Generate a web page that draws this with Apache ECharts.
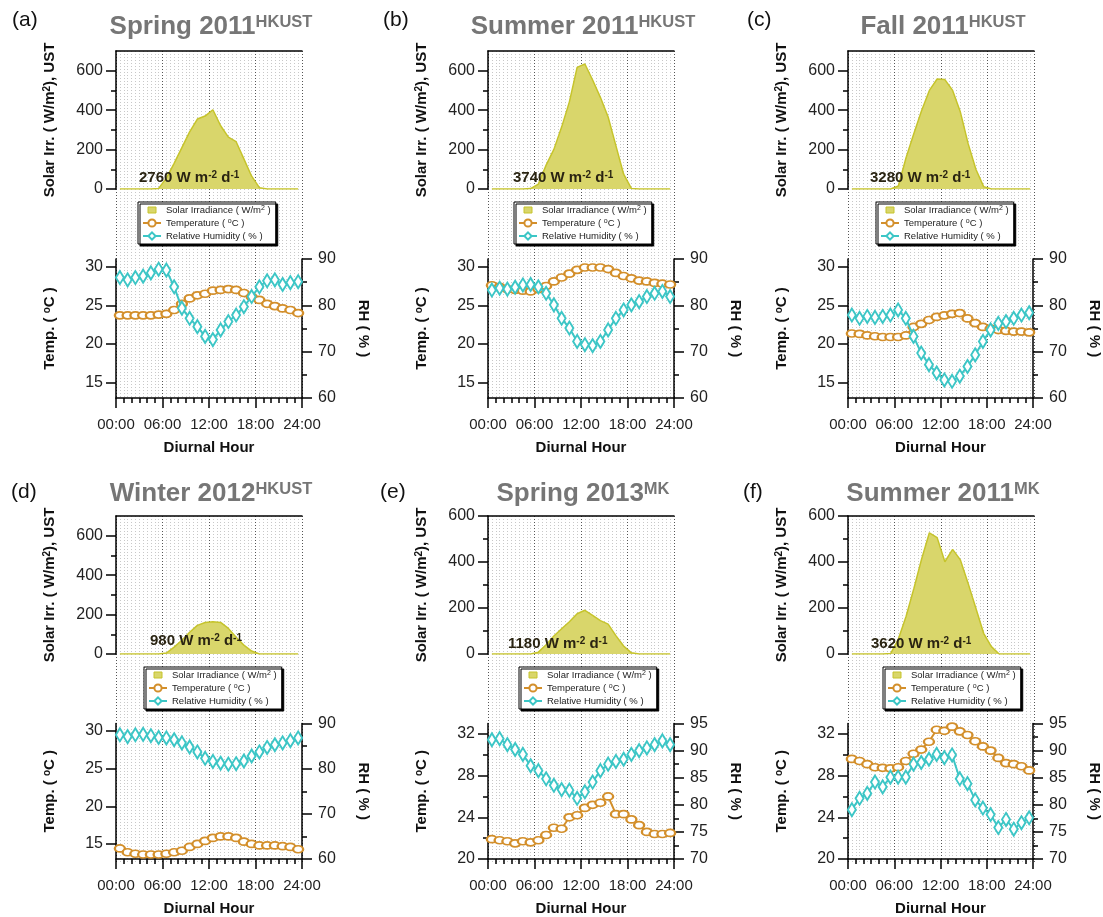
<!DOCTYPE html>
<html><head><meta charset="utf-8">
<script src="https://cdn.jsdelivr.net/npm/echarts@6/dist/echarts.min.js"></script>
<style>html,body{margin:0;padding:0;background:#fff}#c{width:1103px;height:917px}</style>
</head><body><div id="c"></div>
<script>
// ---------------- DATA ----------------
const HOURS = [0.5,1.5,2.5,3.5,4.5,5.5,6.5,7.5,8.5,9.5,10.5,11.5,12.5,13.5,14.5,15.5,16.5,17.5,18.5,19.5,20.5,21.5,22.5,23.5];
const X_TICK_LABELS = ['00:00','06:00','12:00','18:00','24:00'];
const PANEL_LABELS = ['(a)','(b)','(c)','(d)','(e)','(f)'];
const SEASONS = ['Spring 2011','Summer 2011','Fall 2011','Winter 2012','Spring 2013','Summer 2011'];
const SITES = ['HKUST','HKUST','HKUST','HKUST','MK','MK'];
const DAILY_TOTALS = ['2760','3740','3280','980','1180','3620'];

const SOLAR_A = [0,0,0,0,0,3,55,130,210,290,355,370,402,321,263,240,153,65,7,0,0,0,0,0];
const SOLAR_B = [0,0,0,0,0,2,25,121,201,314,442,617,634,553,465,365,220,75,3,0,0,0,0,0];
const SOLAR_C = [0,0,0,0,0,0,15,160,282,398,500,558,555,500,390,230,100,12,0,0,0,0,0,0];
const SOLAR_D = [0,0,0,0,0,0,5,35,70,110,145,160,163,160,130,85,45,15,0,0,0,0,0,0];
const SOLAR_E = [0,0,0,0,0,0,8,40,78,110,140,175,190,168,145,130,80,35,5,0,0,0,0,0];
const SOLAR_F = [0,0,0,0,0,2,65,164,285,413,527,506,401,455,409,307,199,90,32,0,0,0,0,0];

const TEMP_A = [23.7,23.7,23.7,23.7,23.7,23.8,23.9,24.4,25.2,25.9,26.3,26.5,26.9,27.0,27.1,27.0,26.6,26.1,25.7,25.2,24.9,24.6,24.4,24.0];
const TEMP_B = [27.6,27.4,27.1,27.0,26.9,26.8,27.1,27.5,28.1,28.6,29.1,29.6,29.9,29.9,29.9,29.7,29.2,28.8,28.5,28.2,28.1,27.9,27.8,27.7];
const TEMP_C = [21.35,21.3,21.1,21.0,20.9,20.9,20.9,21.1,22.2,22.6,23.1,23.5,23.7,23.9,24.0,23.3,22.7,22.2,22.0,21.8,21.7,21.6,21.6,21.5];
const TEMP_D = [14.4,13.9,13.7,13.6,13.6,13.6,13.7,13.9,14.1,14.6,15.0,15.4,15.8,16.0,16.0,15.8,15.3,15.0,14.8,14.8,14.8,14.7,14.6,14.3];
const TEMP_E = [21.9,21.8,21.7,21.5,21.7,21.6,21.8,22.3,23.0,22.9,24.0,24.2,24.9,25.2,25.4,26.0,24.3,24.3,23.8,23.25,22.6,22.4,22.4,22.5];
const TEMP_F = [29.6,29.4,29.1,28.8,28.75,28.7,28.8,29.4,30.1,30.5,31.25,32.4,32.3,32.7,32.25,31.9,31.3,30.8,30.4,29.7,29.2,29.1,28.9,28.5];

const RH_A = [86.0,85.5,86.0,86.3,87.0,87.8,87.6,84.0,79.4,77.2,75.4,73.3,72.6,74.7,76.5,77.9,79.7,81.9,84.0,85.3,85.5,84.5,84.9,85.1];
const RH_B = [83.3,83.7,83.5,83.9,84.4,84.5,84.0,82.6,80.1,77.2,75.1,72.2,71.5,71.3,72.2,74.7,77.2,79.0,80.1,80.8,81.9,82.6,83.0,81.9];
const RH_C = [77.9,77.2,77.6,77.4,77.6,77.9,79.0,77.2,73.3,69.7,67.2,65.4,63.9,63.6,64.7,66.8,69.3,72.2,74.7,76.1,76.5,77.2,77.9,78.4];
const RH_D = [87.5,87.1,87.5,87.6,87.3,86.9,86.8,86.4,85.7,84.8,83.7,82.3,81.6,81.2,81.0,81.1,81.7,82.8,83.7,84.7,85.3,85.7,86.2,86.8];
const RH_E = [92.0,92.2,91.1,90.2,89.3,87.2,86.3,84.8,83.6,82.8,82.7,81.2,82.4,84.2,86.3,87.5,88.0,88.4,89.3,90.0,90.5,91.1,91.8,91.1];
const RH_F = [79.1,81.2,82.1,84.2,83.3,85.1,85.1,85.1,87.5,87.8,88.4,89.3,88.7,89.2,84.8,83.9,80.9,79.4,78.2,75.8,77.3,75.5,76.7,77.6];

const SOLAR = [SOLAR_A,SOLAR_B,SOLAR_C,SOLAR_D,SOLAR_E,SOLAR_F];
const TEMP = [TEMP_A,TEMP_B,TEMP_C,TEMP_D,TEMP_E,TEMP_F];
const RH = [RH_A,RH_B,RH_C,RH_D,RH_E,RH_F];

// axis ranges / tick labels
const SOLAR_MAX = [700,700,700,700,600,600];
const SOLAR_TICKS = [0,200,400,600];
const TEMP_RANGE = [[13,31],[13,31],[13,31],[13,31],[20,33],[20,33]];
const TEMP_TICKS = [[15,20,25,30],[15,20,25,30],[15,20,25,30],[15,20,25,30],[20,24,28,32],[20,24,28,32]];
const TEMP_INTERVAL = [5,5,5,5,4,4];
const TEMP_MINOR = [false,false,false,false,true,true];
const RH_RANGE = [[60,90],[60,90],[60,90],[60,90],[70,95],[70,95]];
const RH_INTERVAL = [10,10,10,10,5,5];

// ---------------- LAYOUT / STYLE ----------------
const FONT = "'Liberation Sans', Arial, Helvetica, sans-serif";
const COL_LEFT = [116, 488, 848];
const PW = 186;
const TOP_Y = [51, 516];
const BOT_Y = [259, 723.5];
const TH = 138, BH = 139;
const LEG_LEFT = [138, 514, 876, 144, 519, 883];
const LEG_TOP = [202, 667];
const ANN_LEFT = [139, 513, 870, 150, 508, 871];
const ANN_TOP = [170, 170, 170, 633, 636, 636];
const LAB_LEFT = [12, 383, 747, 11, 380, 743];
const LAB_TOP = [10, 482];
const TITLE_TOP = [14, 481];

const C_SOLAR_FILL = '#d9d66b';
const C_SOLAR_LINE = '#c6c42c';
const C_TEMP = '#d38f2b';
const C_RH = '#3cc6c6';

const LEGEND_TEXT = {
  solar: '{n|Solar Irradiance ( W/m}{s|2}{n| )}',
  temp: '{n|Temperature ( }{s|o}{n|C )}',
  rh: '{n|Relative Humidity ( % )}'
};

const grids = [], xAxes = [], yAxes = [], series = [], titles = [], legends = [];
const axisName = {fontSize: 15, fontWeight: 'bold', color: '#111', fontFamily: FONT,
  rich: {b: {fontSize: 15, fontWeight: 'bold', color: '#111', fontFamily: FONT},
         s: {fontSize: 10, fontWeight: 'bold', color: '#111', fontFamily: FONT, verticalAlign: 'top'}}};
const axLine = {show: true, onZero: false, lineStyle: {color: '#000', width: 1.5}};
const tickStyle = {color: '#000', width: 1.5};
const xLbl = {fontSize: 15, color: '#222', fontFamily: FONT};
const yLbl = {fontSize: 16, color: '#222', fontFamily: FONT};

for (let i = 0; i < 6; i++) {
  const col = i % 3, row = Math.floor(i / 3);
  const L = COL_LEFT[col], tTop = TOP_Y[row], bTop = BOT_Y[row];
  const gi = grids.length;
  grids.push({left: L, top: tTop, width: PW, height: bTop + BH - tTop});
  grids.push({left: L, top: tTop, width: PW, height: TH});
  grids.push({left: L, top: bTop, width: PW, height: BH});
  const xi = xAxes.length, yi = yAxes.length;
  // background vertical grid lines
  xAxes.push({gridIndex: gi, type: 'value', min: 0, max: 24, interval: 6,
    axisLine: {show: false}, axisTick: {show: false}, axisLabel: {show: false},
    splitLine: {show: true, lineStyle: {color: '#555', type: [1, 2], width: 1}},
    minorTick: {show: false, splitNumber: 12},
    minorSplitLine: {show: true, lineStyle: {color: '#c8c8c8', type: [1, 2], width: 1}}});
  // top frame line of solar chart
  xAxes.push({gridIndex: gi + 1, type: 'value', position: 'top', min: 0, max: 24, interval: 6,
    axisLine: axLine, axisTick: {show: false}, axisLabel: {show: false}, splitLine: {show: false}});
  // bottom time axis
  xAxes.push({gridIndex: gi + 2, type: 'value', position: 'bottom', min: 0, max: 24, interval: 6,
    name: 'Diurnal Hour', nameLocation: 'middle', nameGap: 42,
    nameTextStyle: {fontSize: 15, fontWeight: 'bold', color: '#111', fontFamily: FONT},
    axisLine: axLine, axisTick: {show: true, length: 10, lineStyle: tickStyle},
    minorTick: {show: true, splitNumber: 6, length: 5, lineStyle: tickStyle},
    axisLabel: Object.assign({margin: 19, formatter: v => X_TICK_LABELS[Math.round(v / 6)]}, xLbl),
    splitLine: {show: false}});
  yAxes.push({gridIndex: gi, type: 'value', show: false, min: 0, max: 1});
  yAxes.push({gridIndex: gi + 1, type: 'value', position: 'left', min: 0, max: SOLAR_MAX[i], interval: 200,
    name: '{b|Solar Irr. ( W/m}{s|2}{b|), UST}', nameLocation: 'middle', nameGap: 59, nameTextStyle: axisName,
    axisLine: axLine,
    axisTick: {show: true, length: 10, lineStyle: tickStyle, customValues: SOLAR_TICKS},
    minorTick: {show: true, splitNumber: 2, length: 5, lineStyle: tickStyle},
    axisLabel: Object.assign({margin: 13, customValues: SOLAR_TICKS}, yLbl),
    splitLine: {show: false}});
  yAxes.push({gridIndex: gi + 2, type: 'value', position: 'left', min: TEMP_RANGE[i][0], max: TEMP_RANGE[i][1], interval: TEMP_INTERVAL[i],
    name: '{b|Temp. ( }{s|o}{b|C )}', nameLocation: 'middle', nameGap: 59, nameTextStyle: axisName,
    axisLine: axLine,
    axisTick: {show: true, length: 10, lineStyle: tickStyle, customValues: TEMP_TICKS[i]},
    minorTick: {show: TEMP_MINOR[i], splitNumber: 2, length: 5, lineStyle: tickStyle},
    axisLabel: Object.assign({margin: 13, customValues: TEMP_TICKS[i]}, yLbl),
    splitLine: {show: false}});
  yAxes.push({gridIndex: gi + 2, type: 'value', position: 'right', min: RH_RANGE[i][0], max: RH_RANGE[i][1], interval: RH_INTERVAL[i],
    name: '{b|RH ( % )}', nameLocation: 'middle', nameGap: 54, nameRotate: -90, nameTextStyle: axisName,
    axisLine: axLine,
    axisTick: {show: true, length: 10, lineStyle: tickStyle},
    minorTick: {show: true, splitNumber: 2, length: 5, lineStyle: tickStyle},
    axisLabel: Object.assign({margin: 16}, yLbl),
    splitLine: {show: false}});

  series.push({name: 'solar', type: 'line', xAxisIndex: xi + 1, yAxisIndex: yi + 1,
    data: HOURS.map((h, k) => [h, SOLAR[i][k]]), symbol: 'none', z: 3,
    lineStyle: {color: C_SOLAR_LINE, width: 1.5}, itemStyle: {color: C_SOLAR_FILL},
    areaStyle: {color: C_SOLAR_FILL, opacity: 1}});
  series.push({name: 'temp', type: 'line', xAxisIndex: xi + 2, yAxisIndex: yi + 2,
    data: HOURS.map((h, k) => [h, TEMP[i][k]]), symbol: 'emptyCircle', symbolSize: [10, 7], z: 3,
    lineStyle: {color: C_TEMP, width: 2}, itemStyle: {color: C_TEMP, borderWidth: 1}});
  series.push({name: 'rh', type: 'line', xAxisIndex: xi + 2, yAxisIndex: yi + 3,
    data: HOURS.map((h, k) => [h, RH[i][k]]), symbol: 'emptyDiamond', symbolSize: [8, 13], z: 4,
    lineStyle: {color: C_RH, width: 2}, itemStyle: {color: C_RH, borderWidth: 1}});

  titles.push({text: PANEL_LABELS[i], left: LAB_LEFT[i], top: LAB_TOP[row], padding: 0,
    textStyle: {fontSize: 21, fontWeight: 'normal', color: '#111', fontFamily: FONT}});
  titles.push({text: '{t|' + SEASONS[i] + '}{s|' + SITES[i] + '}', left: L + PW / 2 + 2, textAlign: 'center', top: TITLE_TOP[row], padding: 0,
    textStyle: {rich: {t: {fontSize: 26, fontWeight: 'bold', color: '#767676', fontFamily: FONT},
                       s: {fontSize: 16.5, fontWeight: 'bold', color: '#767676', fontFamily: FONT, verticalAlign: 'top'}}}});
  titles.push({text: '{b|' + DAILY_TOTALS[i] + ' W m}{s|-2}{b| d}{s|-1}', left: ANN_LEFT[i], top: ANN_TOP[i], padding: 0, z: 6,
    textStyle: {rich: {b: {fontSize: 15, fontWeight: 'bold', color: '#2a2412', fontFamily: FONT},
                       s: {fontSize: 10, fontWeight: 'bold', color: '#2a2412', fontFamily: FONT, verticalAlign: 'top'}}}});

  legends.push({orient: 'vertical', left: LEG_LEFT[i], top: LEG_TOP[row],
    itemWidth: 18, itemHeight: 9, itemGap: 3, padding: [3, 5, 3, 4],
    backgroundColor: '#fff', borderColor: '#000', borderWidth: 1,
    shadowColor: '#000', shadowOffsetX: 2, shadowOffsetY: 2, shadowBlur: 0,
    selectedMode: false, z: 8,
    data: [
      {name: 'solar', icon: 'path://M0,0M18,9M5,1.5L13,1.5L13,7.5L5,7.5Z', itemStyle: {color: C_SOLAR_FILL, borderColor: C_SOLAR_LINE, borderWidth: 1}},
      {name: 'temp'}, {name: 'rh'}],
    formatter: n => LEGEND_TEXT[n],
    textStyle: {fontSize: 9.5, color: '#222', fontFamily: FONT,
      rich: {n: {fontSize: 9.5, color: '#222', fontFamily: FONT},
             s: {fontSize: 7, color: '#222', fontFamily: FONT, verticalAlign: 'top'}}}});
}

const chart = echarts.init(document.getElementById('c'), null, {renderer: 'canvas'});
chart.setOption({
  animation: false,
  backgroundColor: '#fff',
  textStyle: {fontFamily: FONT},
  title: titles, legend: legends, grid: grids, xAxis: xAxes, yAxis: yAxes, series: series
});
</script></body></html>
